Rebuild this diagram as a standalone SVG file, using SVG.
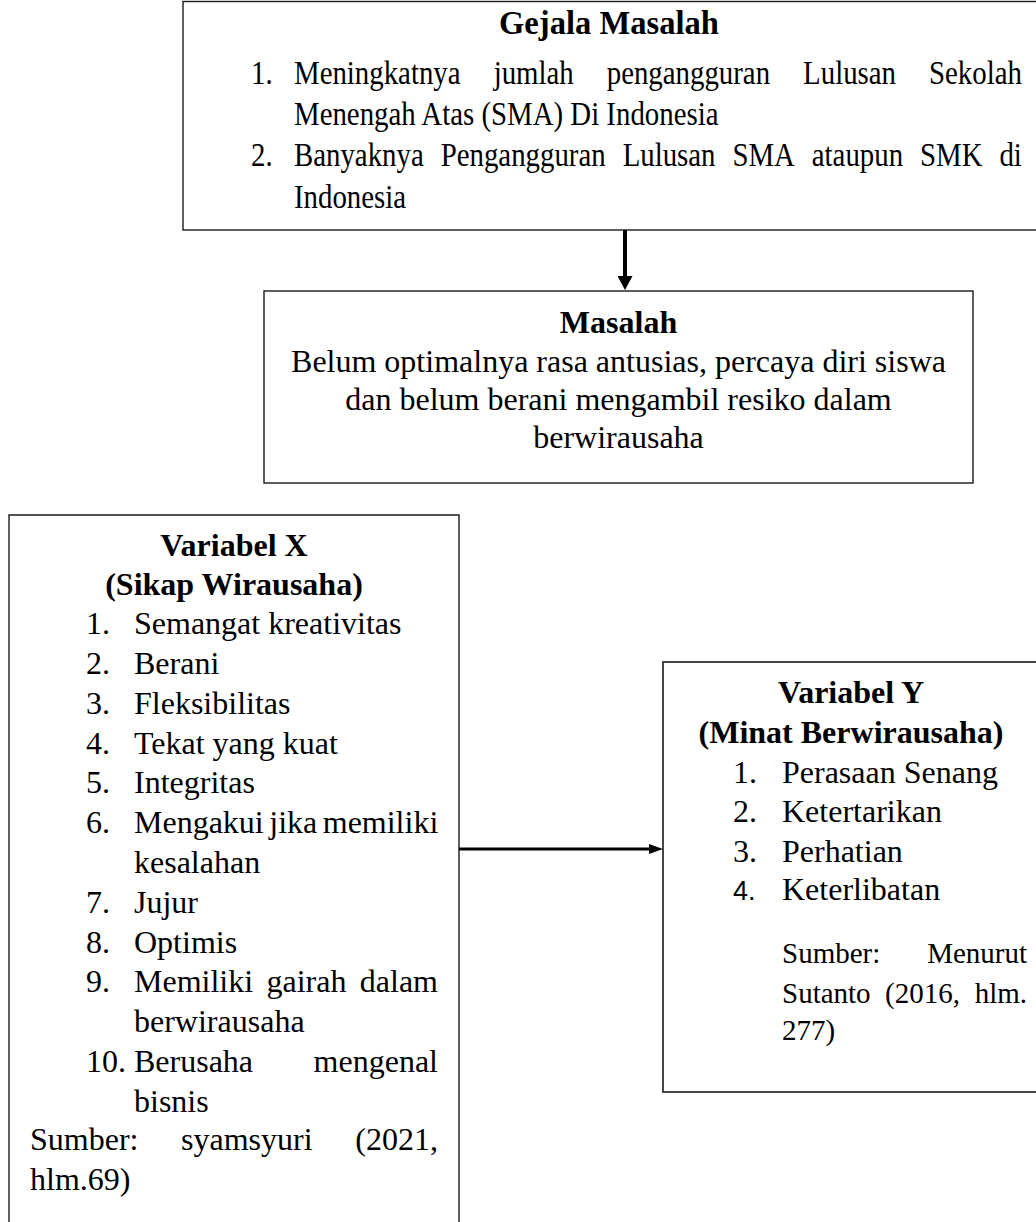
<svg xmlns="http://www.w3.org/2000/svg" width="1036" height="1222" viewBox="0 0 1036 1222">
<style>
.box{fill:none;stroke:#1a1a1a;stroke-width:1.4}
.t{font-family:"Liberation Serif","Times New Roman",serif;font-size:32px;fill:#000}
.tc{font-family:"Liberation Serif","Times New Roman",serif;font-size:33px;fill:#000}
.sm{font-size:29px}
.b{font-weight:bold}
.m{text-anchor:middle}
.e{text-anchor:end}
.s{font-family:"Liberation Sans",Arial,sans-serif;font-size:27px}
.conn{stroke:#000;fill:none}
</style>
<defs>
<marker id="ahDown" markerUnits="userSpaceOnUse" markerWidth="15" markerHeight="15" refX="4" refY="7.5" orient="auto">
<path d="M0,0 L14,7.5 L0,15 Z" fill="#000"/>
</marker>
<marker id="ahRight" markerUnits="userSpaceOnUse" markerWidth="14" markerHeight="10" refX="3" refY="5" orient="auto">
<path d="M0,0 L14,5 L0,10 Z" fill="#000"/>
</marker>
</defs>
<rect width="1036" height="1222" fill="#fff"/>

<g id="gejala">
<rect class="box" x="183" y="1.5" width="870" height="228.5"/>
<text class="tc b m" x="609" y="34" textLength="220" lengthAdjust="spacingAndGlyphs">Gejala Masalah</text>
<g transform="scale(0.874,1)">
<text class="tc" y="84"><tspan x="287.2">1.</tspan><tspan x="336.4">Meningkatnya</tspan><tspan x="564.8">jumlah</tspan><tspan x="694.2">pengangguran</tspan><tspan x="918.9">Lulusan</tspan><tspan x="1062.9">Sekolah</tspan></text>
<text class="tc" x="336.4" y="125">Menengah Atas (SMA) Di Indonesia</text>
<text class="tc" y="166.5"><tspan x="287.2">2.</tspan><tspan x="336.4">Banyaknya</tspan><tspan x="504.2">Pengangguran</tspan><tspan x="712.4">Lulusan</tspan><tspan x="838">SMA</tspan><tspan x="928.8">ataupun</tspan><tspan x="1052.6">SMK</tspan><tspan x="1143.5">di</tspan></text>
<text class="tc" x="336.4" y="208">Indonesia</text>
</g>
</g>

<g id="masalah">
<rect class="box" x="264" y="291" width="709" height="192"/>
<text class="t b m" x="618.5" y="333">Masalah</text>
<text class="t m" x="618.5" y="372">Belum optimalnya rasa antusias, percaya diri siswa</text>
<text class="t m" x="618.5" y="410">dan belum berani mengambil resiko dalam</text>
<text class="t m" x="618.5" y="448">berwirausaha</text>
</g>

<g id="variabelX">
<path class="box" d="M9,1230 V515 H459 V1230"/>
<text class="t b m" x="234" y="556">Variabel X</text>
<text class="t b m" x="234" y="595">(Sikap Wirausaha)</text>
<text class="t" y="634"><tspan x="86">1.</tspan><tspan x="134">Semangat kreativitas</tspan></text>
<text class="t" y="674"><tspan x="86">2.</tspan><tspan x="134">Berani</tspan></text>
<text class="t" y="714"><tspan x="86">3.</tspan><tspan x="134">Fleksibilitas</tspan></text>
<text class="t" y="754"><tspan x="86">4.</tspan><tspan x="134">Tekat yang kuat</tspan></text>
<text class="t" y="793"><tspan x="86">5.</tspan><tspan x="134">Integritas</tspan></text>
<text class="t" y="833"><tspan x="86">6.</tspan><tspan x="134" word-spacing="-2.5">Mengakui jika memiliki</tspan></text>
<text class="t" x="134" y="873">kesalahan</text>
<text class="t" y="913"><tspan x="86">7.</tspan><tspan x="134">Jujur</tspan></text>
<text class="t" y="953"><tspan x="86">8.</tspan><tspan x="134">Optimis</tspan></text>
<text class="t" y="992"><tspan x="86">9.</tspan><tspan x="134">Memiliki</tspan><tspan x="266.5">gairah</tspan></text>
<text class="t e" x="438" y="992">dalam</text>
<text class="t" x="134" y="1032">berwirausaha</text>
<text class="t" y="1072"><tspan x="86">10.</tspan><tspan x="134">Berusaha</tspan></text>
<text class="t e" x="438" y="1072">mengenal</text>
<text class="t" x="134" y="1112">bisnis</text>
<text class="t" y="1150"><tspan x="30">Sumber:</tspan><tspan x="181">syamsyuri</tspan></text>
<text class="t e" x="438" y="1150">(2021,</text>
<text class="t" x="30" y="1190">hlm.69)</text>
</g>

<g id="variabelY">
<rect class="box" x="663" y="662" width="380" height="430" style="stroke:#333;stroke-width:1.8"/>
<text class="t b m" x="851" y="703">Variabel Y</text>
<text class="t b m" x="851" y="743">(Minat Berwirausaha)</text>
<text class="t" y="783"><tspan x="733">1.</tspan><tspan x="782">Perasaan Senang</tspan></text>
<text class="t" y="822"><tspan x="733">2.</tspan><tspan x="782">Ketertarikan</tspan></text>
<text class="t" y="862"><tspan x="733">3.</tspan><tspan x="782">Perhatian</tspan></text>
<text class="t" y="900"><tspan x="733" class="s">4.</tspan><tspan x="782">Keterlibatan</tspan></text>
<text class="t sm" x="782" y="963">Sumber:</text>
<text class="t sm e" x="1027" y="963">Menurut</text>
<text class="t sm" x="782" y="1003">Sutanto</text>
<text class="t sm" x="885" y="1003">(2016,</text>
<text class="t sm e" x="1027" y="1003">hlm.</text>
<text class="t sm" x="782" y="1040">277)</text>
</g>

<g id="connectors">
<line class="conn" x1="625" y1="230" x2="625" y2="280" stroke-width="4" marker-end="url(#ahDown)"/>
<line class="conn" x1="459" y1="849" x2="652" y2="849" stroke-width="3" marker-end="url(#ahRight)"/>
</g>
</svg>
